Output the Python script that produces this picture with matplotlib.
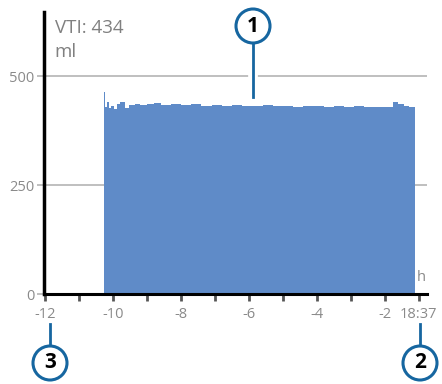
import matplotlib.pyplot as plt
import numpy as np
from matplotlib.patches import Circle
from matplotlib.lines import Line2D

plt.rcParams['font.family'] = ['Open Sans', 'DejaVu Sans']

# breath volume (ml) over the last hours, step edges in hours
edges = [-10.26, -10.23, -10.18, -10.12, -10.05, -9.97, -9.88, -9.78, -9.66,
         -9.52, -9.36, -9.2, -9.0, -8.8, -8.6, -8.3, -8.0, -7.7, -7.4, -7.1,
         -6.8, -6.5, -6.2, -5.9, -5.6, -5.3, -5.0, -4.7, -4.4, -4.1, -3.8,
         -3.5, -3.2, -2.9, -2.6, -2.3, -2.0, -1.75, -1.6, -1.45, -1.3, -1.1]
volumes = [463, 428, 440, 426, 432, 424, 437, 441, 426, 433, 436, 434, 435,
           438, 434, 437, 433, 435, 432, 434, 432, 433, 431, 432, 433, 431,
           432, 430, 431, 432, 430, 431, 430, 431, 430, 430, 430, 440, 437,
           432, 430]

x_ticks = [-12, -11, -10, -9, -8, -7, -6, -5, -4, -3, -2, -1]
x_labels = ['-12', '', '-10', '', '-8', '', '-6', '', '-4', '', '-2', '18:37']
y_ticks = [0, 250, 500]
vti_value = 434

gray = '#8a8a8a'
blue = '#1666a0'

fig = plt.figure(figsize=(4.42, 3.84), dpi=100)
ax = fig.add_axes([44 / 442, (384 - 294) / 384, (427 - 44) / 442, (294 - 12) / 384])

ax.stairs(volumes, edges, fill=True, color='#5f8bc8', zorder=2)

ax.set_xlim(-12.03, -0.76)
ax.set_ylim(0, 647)

for v in y_ticks[1:]:
    ax.axhline(v, color='#b4b4b4', lw=1.2, zorder=1)

ax.set_xticks(x_ticks)
ax.set_xticklabels(x_labels)
ax.set_yticks(y_ticks)
ax.tick_params(axis='x', direction='out', length=5, width=2, colors='#555555',
               labelcolor=gray, labelsize=10.5, pad=4)
ax.tick_params(axis='y', direction='out', length=5, width=1.2, colors='#b4b4b4',
               labelcolor=gray, labelsize=10.5, pad=2)

for side in ['top', 'right']:
    ax.spines[side].set_visible(False)
ax.spines['left'].set_linewidth(2.5)
ax.spines['bottom'].set_linewidth(2.2)
ax.spines['left'].set_color('black')
ax.spines['bottom'].set_color('black')

ax.text(0.028, 0.926, f'VTI: {vti_value}', transform=ax.transAxes, color='#808080',
        fontsize=13.5, va='baseline', ha='left')
ax.text(0.028, 0.84, 'ml', transform=ax.transAxes, color='#808080',
        fontsize=13.5, va='baseline', ha='left')
ax.text(0.985, 0.06, 'h', transform=ax.transAxes, color=gray,
        fontsize=10.5, va='center', ha='center')


def callout(num, cx, cy, y_from, y_to):
    t = fig.dpi_scale_trans
    H = 3.84
    # white gap behind leader line
    fig.add_artist(Line2D([cx / 100, cx / 100], [H - y_from / 100, H - y_to / 100],
                          transform=t, color='white', lw=7, zorder=5))
    fig.add_artist(Line2D([cx / 100, cx / 100], [H - y_from / 100, H - y_to / 100],
                          transform=t, color=blue, lw=2, zorder=6))
    fig.add_artist(Circle((cx / 100, H - cy / 100), 0.17, transform=t,
                          facecolor='white', edgecolor=blue, lw=2.2, zorder=7))
    fig.text(cx / 442, (384 - cy) / 384, str(num), ha='center', va='center',
             fontsize=15, fontweight='bold', color='black', zorder=8)


callout(1, 253, 26, 43, 97)
callout(2, 420, 363, 324, 346)
callout(3, 50, 363, 324, 346)

fig.savefig('out.png', dpi=100)
